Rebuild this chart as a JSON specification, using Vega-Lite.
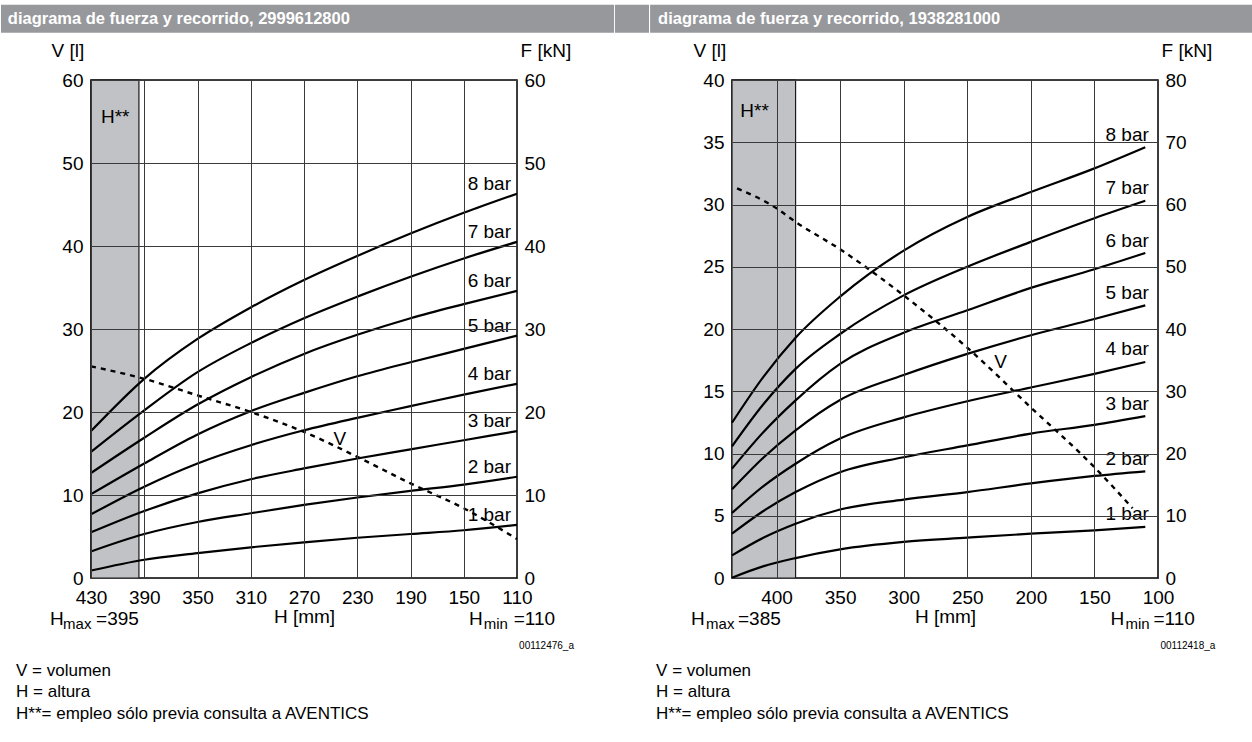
{
 "$schema": "https://vega.github.io/schema/vega-lite/v6.json",
 "padding": {"left": 0, "top": 3, "right": 0, "bottom": 0},
 "autosize": {"type": "pad"},
 "background": "white",
 "config": {
  "font": "Liberation Sans",
  "view": {"stroke": "black", "strokeWidth": 1.5},
  "axis": {"labelFont": "Liberation Sans", "labelFontSize": 19, "labelColor": "black", "titleFont": "Liberation Sans", "titleFontSize": 19, "titleFontWeight": "normal", "titleColor": "black", "ticks": false, "domain": false, "gridColor": "#3a3a3a", "gridWidth": 1, "gridOpacity": 1, "labelFlush": false, "labelOverlap": false},
  "text": {"font": "Liberation Sans", "color": "black"}
 },
 "datasets": {
  "one": [{}],
  "cl": [
   {"p": "8 bar", "h": 430, "v": 17.7}, {"p": "8 bar", "h": 390, "v": 24.0}, {"p": "8 bar", "h": 350, "v": 28.8}, {"p": "8 bar", "h": 310, "v": 32.6}, {"p": "8 bar", "h": 270, "v": 35.9}, {"p": "8 bar", "h": 230, "v": 38.8}, {"p": "8 bar", "h": 190, "v": 41.5}, {"p": "8 bar", "h": 150, "v": 44.0}, {"p": "8 bar", "h": 110, "v": 46.3},
   {"p": "7 bar", "h": 430, "v": 15.2}, {"p": "7 bar", "h": 390, "v": 20.2}, {"p": "7 bar", "h": 350, "v": 24.8}, {"p": "7 bar", "h": 310, "v": 28.3}, {"p": "7 bar", "h": 270, "v": 31.3}, {"p": "7 bar", "h": 230, "v": 33.9}, {"p": "7 bar", "h": 190, "v": 36.3}, {"p": "7 bar", "h": 150, "v": 38.5}, {"p": "7 bar", "h": 110, "v": 40.5},
   {"p": "6 bar", "h": 430, "v": 12.65}, {"p": "6 bar", "h": 390, "v": 16.9}, {"p": "6 bar", "h": 350, "v": 20.9}, {"p": "6 bar", "h": 310, "v": 24.2}, {"p": "6 bar", "h": 270, "v": 27.0}, {"p": "6 bar", "h": 230, "v": 29.3}, {"p": "6 bar", "h": 190, "v": 31.3}, {"p": "6 bar", "h": 150, "v": 33.0}, {"p": "6 bar", "h": 110, "v": 34.6},
   {"p": "5 bar", "h": 430, "v": 10.1}, {"p": "5 bar", "h": 390, "v": 13.8}, {"p": "5 bar", "h": 350, "v": 17.3}, {"p": "5 bar", "h": 310, "v": 20.1}, {"p": "5 bar", "h": 270, "v": 22.3}, {"p": "5 bar", "h": 230, "v": 24.3}, {"p": "5 bar", "h": 190, "v": 26.0}, {"p": "5 bar", "h": 150, "v": 27.6}, {"p": "5 bar", "h": 110, "v": 29.2},
   {"p": "4 bar", "h": 430, "v": 7.67}, {"p": "4 bar", "h": 390, "v": 11.0}, {"p": "4 bar", "h": 350, "v": 13.8}, {"p": "4 bar", "h": 310, "v": 16.0}, {"p": "4 bar", "h": 270, "v": 17.8}, {"p": "4 bar", "h": 230, "v": 19.3}, {"p": "4 bar", "h": 190, "v": 20.7}, {"p": "4 bar", "h": 150, "v": 22.1}, {"p": "4 bar", "h": 110, "v": 23.4},
   {"p": "3 bar", "h": 430, "v": 5.5}, {"p": "3 bar", "h": 390, "v": 8.07}, {"p": "3 bar", "h": 350, "v": 10.2}, {"p": "3 bar", "h": 310, "v": 11.9}, {"p": "3 bar", "h": 270, "v": 13.2}, {"p": "3 bar", "h": 230, "v": 14.4}, {"p": "3 bar", "h": 190, "v": 15.5}, {"p": "3 bar", "h": 150, "v": 16.6}, {"p": "3 bar", "h": 110, "v": 17.7},
   {"p": "2 bar", "h": 430, "v": 3.2}, {"p": "2 bar", "h": 390, "v": 5.3}, {"p": "2 bar", "h": 350, "v": 6.75}, {"p": "2 bar", "h": 310, "v": 7.8}, {"p": "2 bar", "h": 270, "v": 8.8}, {"p": "2 bar", "h": 230, "v": 9.7}, {"p": "2 bar", "h": 190, "v": 10.5}, {"p": "2 bar", "h": 150, "v": 11.25}, {"p": "2 bar", "h": 110, "v": 12.2},
   {"p": "1 bar", "h": 430, "v": 0.9}, {"p": "1 bar", "h": 390, "v": 2.2}, {"p": "1 bar", "h": 350, "v": 3.0}, {"p": "1 bar", "h": 310, "v": 3.7}, {"p": "1 bar", "h": 270, "v": 4.3}, {"p": "1 bar", "h": 230, "v": 4.85}, {"p": "1 bar", "h": 190, "v": 5.3}, {"p": "1 bar", "h": 150, "v": 5.75}, {"p": "1 bar", "h": 110, "v": 6.4}
  ],
  "vl": [
   {"h": 430, "v": 25.5}, {"h": 390, "v": 24.0}, {"h": 350, "v": 22.0}, {"h": 310, "v": 20.0}, {"h": 270, "v": 17.6}, {"h": 230, "v": 14.6}, {"h": 190, "v": 11.4}, {"h": 150, "v": 8.4}, {"h": 110, "v": 4.7}
  ],
  "cr": [
   {"p": "8 bar", "h": 435, "v": 12.47}, {"p": "8 bar", "h": 410, "v": 16.2}, {"p": "8 bar", "h": 385, "v": 19.3}, {"p": "8 bar", "h": 350, "v": 22.6}, {"p": "8 bar", "h": 300, "v": 26.3}, {"p": "8 bar", "h": 250, "v": 29.0}, {"p": "8 bar", "h": 200, "v": 31.0}, {"p": "8 bar", "h": 150, "v": 32.9}, {"p": "8 bar", "h": 110, "v": 34.6},
   {"p": "7 bar", "h": 435, "v": 10.58}, {"p": "7 bar", "h": 410, "v": 14.0}, {"p": "7 bar", "h": 385, "v": 16.8}, {"p": "7 bar", "h": 350, "v": 19.6}, {"p": "7 bar", "h": 300, "v": 22.7}, {"p": "7 bar", "h": 250, "v": 25.0}, {"p": "7 bar", "h": 200, "v": 27.0}, {"p": "7 bar", "h": 150, "v": 28.9}, {"p": "7 bar", "h": 110, "v": 30.3},
   {"p": "6 bar", "h": 435, "v": 8.78}, {"p": "6 bar", "h": 410, "v": 11.75}, {"p": "6 bar", "h": 385, "v": 14.27}, {"p": "6 bar", "h": 350, "v": 17.2}, {"p": "6 bar", "h": 300, "v": 19.7}, {"p": "6 bar", "h": 250, "v": 21.5}, {"p": "6 bar", "h": 200, "v": 23.3}, {"p": "6 bar", "h": 150, "v": 24.8}, {"p": "6 bar", "h": 110, "v": 26.1},
   {"p": "5 bar", "h": 435, "v": 7.12}, {"p": "5 bar", "h": 410, "v": 9.7}, {"p": "5 bar", "h": 385, "v": 11.86}, {"p": "5 bar", "h": 350, "v": 14.3}, {"p": "5 bar", "h": 300, "v": 16.3}, {"p": "5 bar", "h": 250, "v": 18.0}, {"p": "5 bar", "h": 200, "v": 19.5}, {"p": "5 bar", "h": 150, "v": 20.8}, {"p": "5 bar", "h": 110, "v": 21.9},
   {"p": "4 bar", "h": 435, "v": 5.22}, {"p": "4 bar", "h": 410, "v": 7.4}, {"p": "4 bar", "h": 385, "v": 9.18}, {"p": "4 bar", "h": 350, "v": 11.2}, {"p": "4 bar", "h": 300, "v": 12.9}, {"p": "4 bar", "h": 250, "v": 14.2}, {"p": "4 bar", "h": 200, "v": 15.3}, {"p": "4 bar", "h": 150, "v": 16.4}, {"p": "4 bar", "h": 110, "v": 17.35},
   {"p": "3 bar", "h": 435, "v": 3.56}, {"p": "3 bar", "h": 410, "v": 5.4}, {"p": "3 bar", "h": 385, "v": 6.9}, {"p": "3 bar", "h": 350, "v": 8.5}, {"p": "3 bar", "h": 300, "v": 9.7}, {"p": "3 bar", "h": 250, "v": 10.65}, {"p": "3 bar", "h": 200, "v": 11.6}, {"p": "3 bar", "h": 150, "v": 12.3}, {"p": "3 bar", "h": 110, "v": 13.0},
   {"p": "2 bar", "h": 435, "v": 1.82}, {"p": "2 bar", "h": 410, "v": 3.25}, {"p": "2 bar", "h": 385, "v": 4.36}, {"p": "2 bar", "h": 350, "v": 5.5}, {"p": "2 bar", "h": 300, "v": 6.3}, {"p": "2 bar", "h": 250, "v": 6.9}, {"p": "2 bar", "h": 200, "v": 7.6}, {"p": "2 bar", "h": 150, "v": 8.2}, {"p": "2 bar", "h": 110, "v": 8.57},
   {"p": "1 bar", "h": 435, "v": 0.02}, {"p": "1 bar", "h": 410, "v": 0.95}, {"p": "1 bar", "h": 385, "v": 1.6}, {"p": "1 bar", "h": 350, "v": 2.3}, {"p": "1 bar", "h": 300, "v": 2.9}, {"p": "1 bar", "h": 250, "v": 3.24}, {"p": "1 bar", "h": 200, "v": 3.56}, {"p": "1 bar", "h": 150, "v": 3.83}, {"p": "1 bar", "h": 110, "v": 4.1}
  ],
  "vr": [
   {"h": 431, "v": 31.3}, {"h": 400, "v": 29.7}, {"h": 385, "v": 28.6}, {"h": 350, "v": 26.4}, {"h": 300, "v": 22.7}, {"h": 250, "v": 18.5}, {"h": 200, "v": 13.7}, {"h": 150, "v": 8.9}, {"h": 120, "v": 5.6}
  ]
 },
 "spacing": 215,
 "bounds": "flush",
 "hconcat": [
  {
   "width": 426, "height": 498,
   "resolve": {"axis": {"x": "independent", "y": "independent"}},
   "layer": [
    {"data": {"values": [{"h1": 430, "h2": 394}]}, "mark": {"type": "rect", "fill": "#c1c2c5", "stroke": "#1a1a1a", "strokeWidth": 1.2},
     "encoding": {"x": {"field": "h1", "type": "quantitative", "scale": {"domain": [110, 430], "reverse": true, "nice": false, "zero": false}, "axis": null}, "x2": {"field": "h2"},
      "y": {"datum": 0, "type": "quantitative", "scale": {"domain": [0, 60], "nice": false, "zero": false}, "axis": null}, "y2": {"datum": 60}}},
    {"data": {"name": "cl"}, "mark": {"type": "line", "color": "black", "strokeWidth": 2.2, "interpolate": "monotone"},
     "encoding": {"x": {"field": "h", "type": "quantitative", "scale": {"domain": [110, 430], "reverse": true, "nice": false, "zero": false},
       "axis": {"orient": "bottom", "values": [430, 390, 350, 310, 270, 230, 190, 150, 110], "title": "H [mm]", "grid": true, "zindex": 1, "labelPadding": 10, "titleY": 38, "titleBaseline": "middle"}},
      "y": {"field": "v", "type": "quantitative", "scale": {"domain": [0, 60], "nice": false, "zero": false},
       "axis": {"orient": "left", "values": [0, 10, 20, 30, 40, 50, 60], "grid": true, "zindex": 1, "title": "V [l]", "titleAngle": 0, "titleAlign": "left", "titleBaseline": "middle", "titleX": -40, "titleY": -30, "labelPadding": 8}},
      "detail": {"field": "p"}}},
    {"data": {"name": "vl"}, "mark": {"type": "line", "color": "black", "strokeWidth": 2.4, "strokeDash": [5, 5], "interpolate": "monotone"},
     "encoding": {"x": {"field": "h", "type": "quantitative", "scale": {"domain": [110, 430], "reverse": true, "nice": false, "zero": false}, "axis": null},
      "y": {"field": "v", "type": "quantitative", "scale": {"domain": [0, 60], "nice": false, "zero": false},
       "axis": {"orient": "right", "values": [0, 10, 20, 30, 40, 50, 60], "grid": false, "title": "F [kN]", "titleAngle": 0, "titleAlign": "left", "titleBaseline": "middle", "titleX": 3, "titleY": -30, "labelPadding": 7}}}},
    {"data": {"name": "cl"}, "transform": [{"filter": "datum.h == 110"}], "mark": {"type": "text", "align": "right", "baseline": "middle", "dx": -6, "dy": -10, "fontSize": 19},
     "encoding": {"x": {"field": "h", "type": "quantitative", "scale": {"domain": [110, 430], "reverse": true, "nice": false, "zero": false}, "axis": null},
      "y": {"field": "v", "type": "quantitative", "scale": {"domain": [0, 60], "nice": false, "zero": false}, "axis": null}, "text": {"field": "p"}}},
    {"data": {"name": "one"}, "mark": {"type": "rect", "fill": "#97989c"},
     "encoding": {"x": {"datum": 497.6, "type": "quantitative", "scale": {"domain": [110, 430], "reverse": true, "nice": false, "zero": false}, "axis": null}, "x2": {"datum": 37.1},
      "y": {"datum": 69.07, "type": "quantitative", "scale": {"domain": [0, 60], "nice": false, "zero": false}, "axis": null}, "y2": {"datum": 65.7}}},
    {"data": {"name": "one"}, "mark": {"type": "rect", "fill": "#97989c"},
     "encoding": {"x": {"datum": 36.4, "type": "quantitative", "scale": {"domain": [110, 430], "reverse": true, "nice": false, "zero": false}, "axis": null}, "x2": {"datum": 10.85},
      "y": {"datum": 69.07, "type": "quantitative", "scale": {"domain": [0, 60], "nice": false, "zero": false}, "axis": null}, "y2": {"datum": 65.7}}},
    {"data": {"name": "one"}, "mark": {"type": "text", "align": "left", "baseline": "middle", "fontSize": 16.5, "fontWeight": "bold", "color": "white"},
     "encoding": {"x": {"datum": 492.5, "type": "quantitative", "scale": {"domain": [110, 430], "reverse": true, "nice": false, "zero": false}, "axis": null},
      "y": {"datum": 67.35, "type": "quantitative", "scale": {"domain": [0, 60], "nice": false, "zero": false}, "axis": null}, "text": {"value": "diagrama de fuerza y recorrido, 2999612800"}}},
    {"data": {"name": "one"}, "mark": {"type": "text", "align": "left", "baseline": "middle", "fontSize": 19},
     "encoding": {"x": {"datum": 422.5, "type": "quantitative", "scale": {"domain": [110, 430], "reverse": true, "nice": false, "zero": false}, "axis": null},
      "y": {"datum": 55.54, "type": "quantitative", "scale": {"domain": [0, 60], "nice": false, "zero": false}, "axis": null}, "text": {"value": "H**"}}},
    {"data": {"name": "one"}, "mark": {"type": "text", "align": "center", "baseline": "middle", "fontSize": 19},
     "encoding": {"x": {"datum": 243, "type": "quantitative", "scale": {"domain": [110, 430], "reverse": true, "nice": false, "zero": false}, "axis": null},
      "y": {"datum": 16.8, "type": "quantitative", "scale": {"domain": [0, 60], "nice": false, "zero": false}, "axis": null}, "text": {"value": "V"}}},
    {"data": {"name": "one"}, "mark": {"type": "text", "align": "left", "baseline": "alphabetic", "fontSize": 19},
     "encoding": {"x": {"datum": 460.8, "type": "quantitative", "scale": {"domain": [110, 430], "reverse": true, "nice": false, "zero": false}, "axis": null},
      "y": {"datum": -5.66, "type": "quantitative", "scale": {"domain": [0, 60], "nice": false, "zero": false}, "axis": null}, "text": {"value": "H"}}},
    {"data": {"name": "one"}, "mark": {"type": "text", "align": "left", "baseline": "alphabetic", "fontSize": 15},
     "encoding": {"x": {"datum": 451.0, "type": "quantitative", "scale": {"domain": [110, 430], "reverse": true, "nice": false, "zero": false}, "axis": null},
      "y": {"datum": -6.11, "type": "quantitative", "scale": {"domain": [0, 60], "nice": false, "zero": false}, "axis": null}, "text": {"value": "max"}}},
    {"data": {"name": "one"}, "mark": {"type": "text", "align": "left", "baseline": "alphabetic", "fontSize": 19},
     "encoding": {"x": {"datum": 426.2, "type": "quantitative", "scale": {"domain": [110, 430], "reverse": true, "nice": false, "zero": false}, "axis": null},
      "y": {"datum": -5.66, "type": "quantitative", "scale": {"domain": [0, 60], "nice": false, "zero": false}, "axis": null}, "text": {"value": "=395"}}},
    {"data": {"name": "one"}, "mark": {"type": "text", "align": "left", "baseline": "alphabetic", "fontSize": 19},
     "encoding": {"x": {"datum": 146.1, "type": "quantitative", "scale": {"domain": [110, 430], "reverse": true, "nice": false, "zero": false}, "axis": null},
      "y": {"datum": -5.66, "type": "quantitative", "scale": {"domain": [0, 60], "nice": false, "zero": false}, "axis": null}, "text": {"value": "H"}}},
    {"data": {"name": "one"}, "mark": {"type": "text", "align": "left", "baseline": "alphabetic", "fontSize": 15},
     "encoding": {"x": {"datum": 135.0, "type": "quantitative", "scale": {"domain": [110, 430], "reverse": true, "nice": false, "zero": false}, "axis": null},
      "y": {"datum": -6.11, "type": "quantitative", "scale": {"domain": [0, 60], "nice": false, "zero": false}, "axis": null}, "text": {"value": "min"}}},
    {"data": {"name": "one"}, "mark": {"type": "text", "align": "left", "baseline": "alphabetic", "fontSize": 19},
     "encoding": {"x": {"datum": 112.5, "type": "quantitative", "scale": {"domain": [110, 430], "reverse": true, "nice": false, "zero": false}, "axis": null},
      "y": {"datum": -5.66, "type": "quantitative", "scale": {"domain": [0, 60], "nice": false, "zero": false}, "axis": null}, "text": {"value": "=110"}}},
    {"data": {"name": "one"}, "mark": {"type": "text", "align": "right", "baseline": "middle", "fontSize": 10},
     "encoding": {"x": {"datum": 67.2, "type": "quantitative", "scale": {"domain": [110, 430], "reverse": true, "nice": false, "zero": false}, "axis": null},
      "y": {"datum": -8.19, "type": "quantitative", "scale": {"domain": [0, 60], "nice": false, "zero": false}, "axis": null}, "text": {"value": "00112476_a"}}},
    {"data": {"name": "one"}, "mark": {"type": "text", "align": "left", "baseline": "top", "fontSize": 17, "lineHeight": 21.7},
     "encoding": {"x": {"datum": 486.3, "type": "quantitative", "scale": {"domain": [110, 430], "reverse": true, "nice": false, "zero": false}, "axis": null},
      "y": {"datum": -10.19, "type": "quantitative", "scale": {"domain": [0, 60], "nice": false, "zero": false}, "axis": null}, "text": {"value": ["V = volumen", "H = altura", "H**= empleo sólo previa consulta a AVENTICS"]}}}
   ]
  },
  {
   "width": 426, "height": 498,
   "resolve": {"axis": {"x": "independent", "y": "independent"}},
   "layer": [
    {"data": {"values": [{"h1": 435, "h2": 385}]}, "mark": {"type": "rect", "fill": "#c1c2c5", "stroke": "#1a1a1a", "strokeWidth": 1.2},
     "encoding": {"x": {"field": "h1", "type": "quantitative", "scale": {"domain": [100, 435], "reverse": true, "nice": false, "zero": false}, "axis": null}, "x2": {"field": "h2"},
      "y": {"datum": 0, "type": "quantitative", "scale": {"domain": [0, 40], "nice": false, "zero": false}, "axis": null}, "y2": {"datum": 40}}},
    {"data": {"name": "cr"}, "mark": {"type": "line", "color": "black", "strokeWidth": 2.2, "interpolate": "monotone"},
     "encoding": {"x": {"field": "h", "type": "quantitative", "scale": {"domain": [100, 435], "reverse": true, "nice": false, "zero": false},
       "axis": {"orient": "bottom", "values": [400, 350, 300, 250, 200, 150, 100], "title": "H [mm]", "grid": true, "zindex": 1, "labelPadding": 10, "titleY": 38, "titleBaseline": "middle"}},
      "y": {"field": "v", "type": "quantitative", "scale": {"domain": [0, 40], "nice": false, "zero": false},
       "axis": {"orient": "left", "values": [0, 5, 10, 15, 20, 25, 30, 35, 40], "grid": true, "zindex": 1, "title": "V [l]", "titleAngle": 0, "titleAlign": "left", "titleBaseline": "middle", "titleX": -39, "titleY": -30, "labelPadding": 8}},
      "detail": {"field": "p"}}},
    {"data": {"name": "vr"}, "mark": {"type": "line", "color": "black", "strokeWidth": 2.4, "strokeDash": [5, 5], "interpolate": "monotone"},
     "encoding": {"x": {"field": "h", "type": "quantitative", "scale": {"domain": [100, 435], "reverse": true, "nice": false, "zero": false}, "axis": null},
      "y": {"field": "v", "type": "quantitative", "scale": {"domain": [0, 40], "nice": false, "zero": false},
       "axis": {"orient": "right", "values": [0, 5, 10, 15, 20, 25, 30, 35, 40], "labelExpr": "'' + (datum.value * 2)", "grid": false, "title": "F [kN]", "titleAngle": 0, "titleAlign": "left", "titleBaseline": "middle", "titleX": 3, "titleY": -30, "labelPadding": 7}}}},
    {"data": {"name": "cr"}, "transform": [{"filter": "datum.h == 110"}], "mark": {"type": "text", "align": "right", "baseline": "middle", "dx": 3.5, "dy": -12.5, "fontSize": 19},
     "encoding": {"x": {"field": "h", "type": "quantitative", "scale": {"domain": [100, 435], "reverse": true, "nice": false, "zero": false}, "axis": null},
      "y": {"field": "v", "type": "quantitative", "scale": {"domain": [0, 40], "nice": false, "zero": false}, "axis": null}, "text": {"field": "p"}}},
    {"data": {"name": "one"}, "mark": {"type": "rect", "fill": "#97989c"},
     "encoding": {"x": {"datum": 499.4, "type": "quantitative", "scale": {"domain": [100, 435], "reverse": true, "nice": false, "zero": false}, "axis": null}, "x2": {"datum": 25.8},
      "y": {"datum": 46.05, "type": "quantitative", "scale": {"domain": [0, 40], "nice": false, "zero": false}, "axis": null}, "y2": {"datum": 43.8}}},
    {"data": {"name": "one"}, "mark": {"type": "text", "align": "left", "baseline": "middle", "fontSize": 16.5, "fontWeight": "bold", "color": "white"},
     "encoding": {"x": {"datum": 493.1, "type": "quantitative", "scale": {"domain": [100, 435], "reverse": true, "nice": false, "zero": false}, "axis": null},
      "y": {"datum": 44.9, "type": "quantitative", "scale": {"domain": [0, 40], "nice": false, "zero": false}, "axis": null}, "text": {"value": "diagrama de fuerza y recorrido, 1938281000"}}},
    {"data": {"name": "one"}, "mark": {"type": "text", "align": "left", "baseline": "middle", "fontSize": 19},
     "encoding": {"x": {"datum": 428.5, "type": "quantitative", "scale": {"domain": [100, 435], "reverse": true, "nice": false, "zero": false}, "axis": null},
      "y": {"datum": 37.5, "type": "quantitative", "scale": {"domain": [0, 40], "nice": false, "zero": false}, "axis": null}, "text": {"value": "H**"}}},
    {"data": {"name": "one"}, "mark": {"type": "text", "align": "center", "baseline": "middle", "fontSize": 19},
     "encoding": {"x": {"datum": 223.7, "type": "quantitative", "scale": {"domain": [100, 435], "reverse": true, "nice": false, "zero": false}, "axis": null},
      "y": {"datum": 17.35, "type": "quantitative", "scale": {"domain": [0, 40], "nice": false, "zero": false}, "axis": null}, "text": {"value": "V"}}},
    {"data": {"name": "one"}, "mark": {"type": "text", "align": "left", "baseline": "alphabetic", "fontSize": 19},
     "encoding": {"x": {"datum": 467.2, "type": "quantitative", "scale": {"domain": [100, 435], "reverse": true, "nice": false, "zero": false}, "axis": null},
      "y": {"datum": -3.78, "type": "quantitative", "scale": {"domain": [0, 40], "nice": false, "zero": false}, "axis": null}, "text": {"value": "H"}}},
    {"data": {"name": "one"}, "mark": {"type": "text", "align": "left", "baseline": "alphabetic", "fontSize": 15},
     "encoding": {"x": {"datum": 455.4, "type": "quantitative", "scale": {"domain": [100, 435], "reverse": true, "nice": false, "zero": false}, "axis": null},
      "y": {"datum": -4.07, "type": "quantitative", "scale": {"domain": [0, 40], "nice": false, "zero": false}, "axis": null}, "text": {"value": "max"}}},
    {"data": {"name": "one"}, "mark": {"type": "text", "align": "left", "baseline": "alphabetic", "fontSize": 19},
     "encoding": {"x": {"datum": 430.3, "type": "quantitative", "scale": {"domain": [100, 435], "reverse": true, "nice": false, "zero": false}, "axis": null},
      "y": {"datum": -3.78, "type": "quantitative", "scale": {"domain": [0, 40], "nice": false, "zero": false}, "axis": null}, "text": {"value": "=385"}}},
    {"data": {"name": "one"}, "mark": {"type": "text", "align": "left", "baseline": "alphabetic", "fontSize": 19},
     "encoding": {"x": {"datum": 137.3, "type": "quantitative", "scale": {"domain": [100, 435], "reverse": true, "nice": false, "zero": false}, "axis": null},
      "y": {"datum": -3.78, "type": "quantitative", "scale": {"domain": [0, 40], "nice": false, "zero": false}, "axis": null}, "text": {"value": "H"}}},
    {"data": {"name": "one"}, "mark": {"type": "text", "align": "left", "baseline": "alphabetic", "fontSize": 15},
     "encoding": {"x": {"datum": 125.6, "type": "quantitative", "scale": {"domain": [100, 435], "reverse": true, "nice": false, "zero": false}, "axis": null},
      "y": {"datum": -4.07, "type": "quantitative", "scale": {"domain": [0, 40], "nice": false, "zero": false}, "axis": null}, "text": {"value": "min"}}},
    {"data": {"name": "one"}, "mark": {"type": "text", "align": "left", "baseline": "alphabetic", "fontSize": 19},
     "encoding": {"x": {"datum": 103.6, "type": "quantitative", "scale": {"domain": [100, 435], "reverse": true, "nice": false, "zero": false}, "axis": null},
      "y": {"datum": -3.78, "type": "quantitative", "scale": {"domain": [0, 40], "nice": false, "zero": false}, "axis": null}, "text": {"value": "=110"}}},
    {"data": {"name": "one"}, "mark": {"type": "text", "align": "right", "baseline": "middle", "fontSize": 10},
     "encoding": {"x": {"datum": 54.9, "type": "quantitative", "scale": {"domain": [100, 435], "reverse": true, "nice": false, "zero": false}, "axis": null},
      "y": {"datum": -5.46, "type": "quantitative", "scale": {"domain": [0, 40], "nice": false, "zero": false}, "axis": null}, "text": {"value": "00112418_a"}}},
    {"data": {"name": "one"}, "mark": {"type": "text", "align": "left", "baseline": "top", "fontSize": 17, "lineHeight": 21.7},
     "encoding": {"x": {"datum": 494.7, "type": "quantitative", "scale": {"domain": [100, 435], "reverse": true, "nice": false, "zero": false}, "axis": null},
      "y": {"datum": -6.8, "type": "quantitative", "scale": {"domain": [0, 40], "nice": false, "zero": false}, "axis": null}, "text": {"value": ["V = volumen", "H = altura", "H**= empleo sólo previa consulta a AVENTICS"]}}}
   ]
  }
 ]
}
